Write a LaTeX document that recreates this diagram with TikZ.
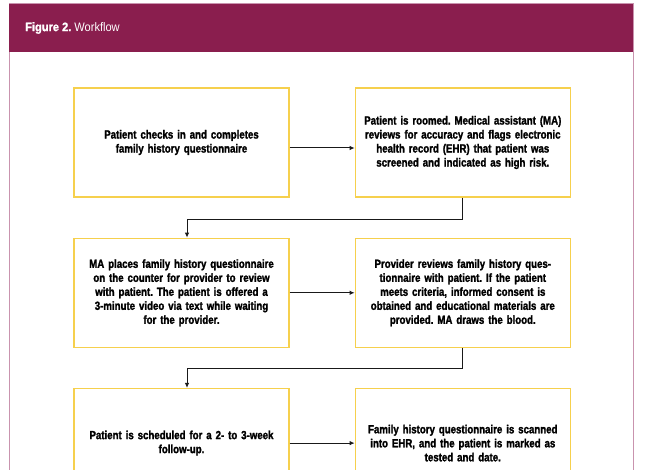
\documentclass[tikz,border=0pt]{standalone}
\usepackage{fontspec}
\setmainfont{Liberation Sans}
\newfontfamily\boxfont[FakeStretch=0.82,FakeBold=1.6]{Liberation Sans}
\newfontfamily\titlefont[FakeStretch=0.9]{Liberation Sans}
\newfontfamily\titleheavy[FakeStretch=0.9,FakeBold=1.5]{Liberation Sans}
\usetikzlibrary{positioning}
\usetikzlibrary{arrows.meta}
\definecolor{headmaroon}{HTML}{8A1E4E}
\definecolor{framepink}{HTML}{C993AE}
\definecolor{boxyellow}{HTML}{F6D04D}
\frenchspacing

\begin{document}
\begin{tikzpicture}[x=1pt, y=1pt, node distance=40pt and 65pt,
  stepbox/.style={draw=boxyellow, line width=1.3pt, fill=white,
    minimum width=215pt, minimum height=109pt, text width=205pt,
    align=center, inner sep=0pt,
    font=\boxfont\bfseries\fontsize{11.8}{14}\selectfont},
  flow/.style={-{Latex[length=5pt,width=4.5pt]}, line width=1pt, draw=black!90}]

  % page and frame
  \useasboundingbox (0,0) rectangle (648,-470);
  \clip (0,0) rectangle (648,-470);
  \draw[framepink, line width=1pt] (9,-480) -- (9,-4) -- (633,-4) -- (633,-480);
  \fill[headmaroon] (9,-4) rectangle (633,-52);
  \node[anchor=west, text=white, inner sep=0pt,
    font=\titlefont\fontsize{12.3}{14}\selectfont] (title) at (25,-28)
    {{\titleheavy\bfseries Figure 2.} Workflow};

  % steps
  \node[stepbox] (checkin) at (181.5,-142.5)
    {Patient checks in and completes\\family history questionnaire};
  \node[stepbox, right=of checkin] (roomed)
    {Patient is roomed. Medical assistant (MA)\\reviews for accuracy and flags electronic\\health record (EHR) that patient was\\screened and indicated as high risk.};
  \node[stepbox, below=of checkin] (places)
    {MA places family history questionnaire\\on the counter for provider to review\\with patient. The patient is offered a\\3-minute video via text while waiting\\for the provider.};
  \node[stepbox, right=of places] (reviews)
    {Provider reviews family history ques-\\tionnaire with patient. If the patient\\meets criteria, informed consent is\\obtained and educational materials are\\provided. MA draws the blood.};
  \node[stepbox, below=of places] (schedule)
    {Patient is scheduled for a 2- to 3-week\\follow-up.};
  \node[stepbox, right=of schedule] (scanned)
    {Family history questionnaire is scanned\\into EHR, and the patient is marked as\\tested and date.};

  % arrows
  \draw[flow] ([yshift=-5.5pt]checkin.east) -- ([yshift=-5.5pt]roomed.west);
  \draw[flow] (roomed.south) -- ++(0,-22) -| ([xshift=5.5pt]places.north);
  \draw[flow] (places.east) -- (reviews.west);
  \draw[flow] (reviews.south) -- ++(0,-21) -| ([xshift=5.5pt]schedule.north);
  \draw[flow] (schedule.east) -- (scanned.west);

\end{tikzpicture}
\end{document}
